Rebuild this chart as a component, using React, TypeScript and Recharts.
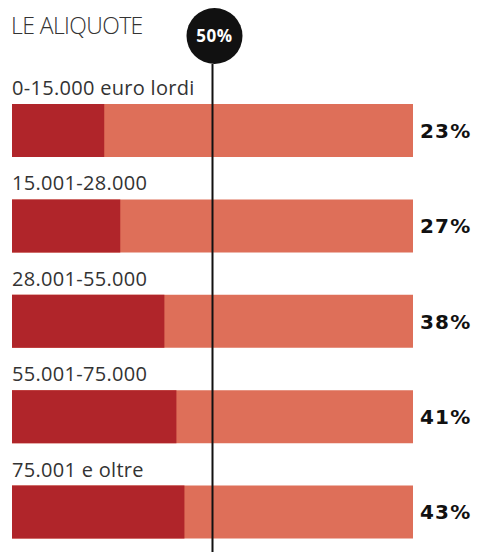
import React from 'react';
import { BarChart, Bar, XAxis, YAxis, ReferenceLine, LabelList } from 'recharts';

const bands = ['0-15.000 euro lordi', '15.001-28.000', '28.001-55.000', '55.001-75.000', '75.001 e oltre'];
const rates = [23, 27, 38, 41, 43];
const threshold = 50;

const DARK = '#b0252a';
const LIGHT = '#de6f59';
const TEXT = '#333333';

const data = bands.map((band, i) => ({ band, rate: rates[i], label: `${rates[i]}%` }));

const BandLabel = (props: any) => {
  const { x, y, value } = props;
  return (
    <text x={x} y={y - 9} fill={TEXT} fontSize={20} fontFamily="'Open Sans', sans-serif" letterSpacing={0.3}>
      {value}
    </text>
  );
};

const RateTick = (props: any) => {
  const { x, y, payload } = props;
  return (
    <text x={x - 1} y={y} dy={7} fill="#111" fontSize={20} fontWeight={700}
      fontFamily="'DejaVu Sans', sans-serif" letterSpacing={1.2}>
      {payload.value}
    </text>
  );
};

const Marker = (props: any) => {
  const { viewBox } = props;
  const cx = viewBox.x + 2;
  const cy = 36;
  return (
    <g>
      <line x1={viewBox.x} x2={viewBox.x} y1={cy + 28} y2={viewBox.y} stroke="#111" strokeWidth={2} />
      <circle cx={cx} cy={cy} r={28} fill="#111" />
      <text x={cx} y={cy} dy={6} textAnchor="middle" fill="#fff" fontSize={17} fontWeight={700}
        fontFamily="'Open Sans', sans-serif" letterSpacing={0.5}>
        {`${threshold}%`}
      </text>
    </g>
  );
};

export default function App() {
  return (
    <div style={{ position: 'absolute', left: 0, top: 0, width: 478, height: 552, overflow: 'hidden', background: '#fff' }}>
      <div style={{ position: 'absolute', left: 11, top: 10, fontFamily: "'Open Sans', sans-serif", fontSize: 23,
        fontWeight: 300, color: TEXT, letterSpacing: -0.6, lineHeight: '30px' }}>
        LE ALIQUOTE
      </div>
      <BarChart width={478} height={560} data={data} layout="vertical"
        margin={{ top: 83, right: 0, bottom: 0, left: 12 }} barSize={53}>
        <XAxis type="number" domain={[0, 100]} hide />
        <YAxis type="category" dataKey="label" orientation="right" width={65}
          axisLine={false} tickLine={false} tick={<RateTick />} />
        <Bar dataKey="rate" fill={DARK} background={{ fill: LIGHT }} isAnimationActive={false}>
          <LabelList dataKey="band" content={<BandLabel />} />
        </Bar>
        <ReferenceLine x={threshold} stroke="#111" strokeWidth={2} label={<Marker />} />
      </BarChart>
    </div>
  );
}
